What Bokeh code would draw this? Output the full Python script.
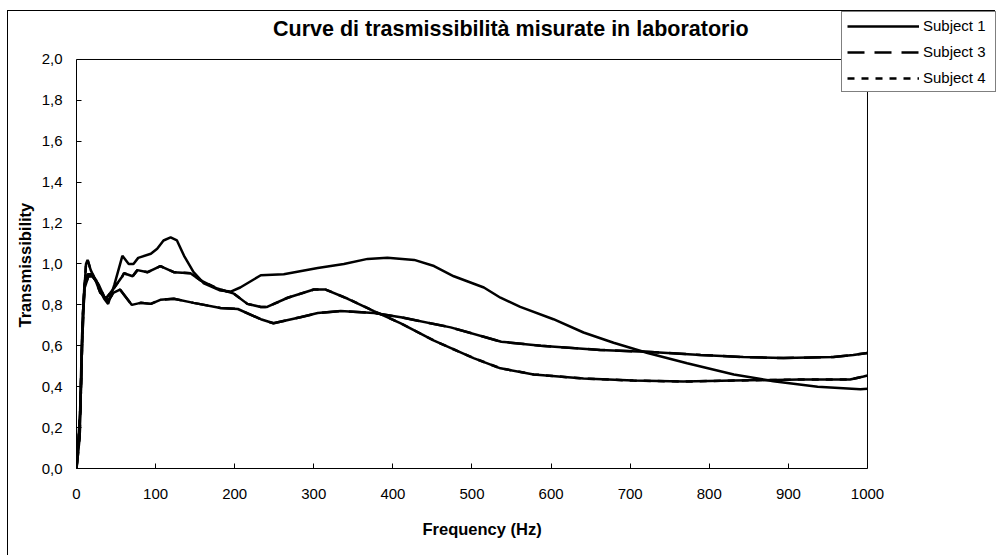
from bokeh.plotting import figure
from bokeh.models import (Range1d, Legend, LegendItem, Label, CustomJSTickFormatter, FixedTicker,
                          Spacer, Title)
from bokeh.layouts import column, row
from bokeh.embed import file_html
from bokeh.resources import INLINE

# ---- data ----
s1_freq = [0, 4, 7, 10, 14, 19, 25, 30, 35, 40, 48, 58, 66, 72, 78, 94, 102, 110, 119, 127, 136, 148, 161,
           182, 195, 207, 233, 262, 305, 338, 368, 393, 427, 452, 477, 515, 536, 561, 603, 641, 679, 722,
           772, 831, 881, 937, 991, 1000]
s1_val = [0, 0.2, 0.65, 0.9, 0.95, 0.95, 0.92, 0.87, 0.83, 0.805, 0.9, 1.04, 1.0, 1.0, 1.03, 1.05, 1.075,
          1.115, 1.13, 1.115, 1.04, 0.96, 0.905, 0.87, 0.865, 0.885, 0.945, 0.95, 0.98, 1.0, 1.025, 1.03,
          1.02, 0.99, 0.94, 0.885, 0.835, 0.79, 0.73, 0.665, 0.615, 0.565, 0.515, 0.46, 0.427, 0.40, 0.388, 0.39]

s3_freq = [0, 4, 7, 10, 15, 20, 28, 35, 40, 47, 55, 62, 70, 81, 94, 106, 123, 148, 182, 204, 233, 249, 283,
           305, 334, 376, 410, 473, 537, 587, 662, 726, 789, 843, 894, 957, 982, 1000]
s3_val = [0, 0.15, 0.6, 0.88, 0.94, 0.94, 0.9, 0.84, 0.82, 0.86, 0.875, 0.84, 0.80, 0.81, 0.805, 0.825,
          0.83, 0.81, 0.785, 0.78, 0.73, 0.71, 0.74, 0.76, 0.77, 0.76, 0.74, 0.69, 0.62, 0.60, 0.58, 0.57,
          0.555, 0.545, 0.54, 0.545, 0.555, 0.565]

s4_freq = [0, 5, 8, 12, 14, 18, 24, 30, 37, 47, 58, 60, 71, 77, 90, 106, 123, 144, 157, 178, 199, 216, 233,
           241, 267, 300, 315, 343, 376, 410, 452, 502, 536, 578, 641, 704, 767, 831, 915, 978, 995, 1000]
s4_val = [0, 0.3, 0.75, 1.0, 1.02, 0.97, 0.92, 0.86, 0.83, 0.88, 0.94, 0.955, 0.94, 0.97, 0.96, 0.99, 0.96,
          0.955, 0.92, 0.88, 0.855, 0.805, 0.79, 0.79, 0.835, 0.875, 0.875, 0.83, 0.77, 0.71, 0.625, 0.54,
          0.49, 0.46, 0.44, 0.43, 0.425, 0.43, 0.435, 0.435, 0.45, 0.455]

series_labels = ["Subject 1", "Subject 3", "Subject 4"]
x_ticks = [0, 100, 200, 300, 400, 500, 600, 700, 800, 900, 1000]
y_ticks = [0.0, 0.2, 0.4, 0.6, 0.8, 1.0, 1.2, 1.4, 1.6, 1.8, 2.0]
title_text = "Curve di trasmissibilità misurate in laboratorio"
x_title = "Frequency (Hz)"
y_title = "Transmissibility"

FONT = "Liberation Sans"
LW = 2.5

# The frame extends over the legend/title area; the visible plot box is 0..1000 x 0..2
X_MAX_VIEW = 1163.1
Y_MAX_VIEW = 2.2347

p = figure(width=988, height=545, output_backend="svg", toolbar_location=None,
           x_range=Range1d(0, X_MAX_VIEW), y_range=Range1d(0, Y_MAX_VIEW),
           min_border_left=68, min_border_right=0, min_border_top=0, min_border_bottom=88)
p.styles = {"box-shadow": "-1px -1px 0 0 black"}
p.background_fill_color = "white"
p.border_fill_color = "white"
p.outline_line_color = None
p.xgrid.visible = False
p.ygrid.visible = False

for ax in (p.xaxis[0], p.yaxis[0]):
    ax.axis_line_color = "black"
    ax.major_tick_in = 5
    ax.major_tick_out = 0
    ax.minor_tick_line_color = None
    ax.major_tick_line_color = "black"
    ax.major_label_text_font = FONT
    ax.major_label_text_font_size = "15px"
    ax.major_label_text_color = "black"

p.xaxis.bounds = (x_ticks[0], x_ticks[-1])
p.yaxis.bounds = (y_ticks[0], y_ticks[-1])
p.xaxis.ticker = FixedTicker(ticks=x_ticks)
p.yaxis.ticker = FixedTicker(ticks=y_ticks)
p.yaxis.formatter = CustomJSTickFormatter(code="return tick.toFixed(1).replace('.', ',');")
p.xaxis.major_label_standoff = 20
p.yaxis.major_label_standoff = 14

# axis titles, positioned along the visible plot box
p.add_layout(Title(text=x_title, align="left", offset=346, standoff=32, text_font=FONT,
                   text_font_size="16.5px", text_font_style="bold", text_color="black"), "below")
p.add_layout(Title(text=y_title, align="left", offset=141, standoff=10, text_font=FONT,
                   text_font_size="16.5px", text_font_style="bold", text_color="black"), "left")

# plot-area box (top and right edges; left/bottom are the axes)
p.line([x_ticks[0], x_ticks[-1], x_ticks[-1]], [y_ticks[-1], y_ticks[-1], y_ticks[0]],
       line_color="black", line_width=1)

# dashed versions underneath (their style is what the legend shows)
d3 = p.line(s3_freq, s3_val, line_color="black", line_width=LW, line_dash="17 10")
d4 = p.line(s4_freq, s4_val, line_color="black", line_width=LW, line_dash="7 7")

# curves as they appear (densely sampled -> look continuous)
r1 = p.line(s1_freq, s1_val, line_color="black", line_width=LW)
p.line(s3_freq, s3_val, line_color="black", line_width=LW)
p.line(s4_freq, s4_val, line_color="black", line_width=LW)

legend = Legend(items=[LegendItem(label=series_labels[0], renderers=[r1]),
                       LegendItem(label=series_labels[1], renderers=[d3]),
                       LegendItem(label=series_labels[2], renderers=[d4])],
                location="top_right", margin=0, padding=5, spacing=9,
                glyph_width=72, glyph_height=16, label_height=16, label_width=67,
                label_standoff=4, label_text_font=FONT, label_text_font_size="15px",
                label_text_color="black", border_line_color="black", border_line_width=1,
                background_fill_color="white", background_fill_alpha=1.0)
p.add_layout(legend, "center")

p.add_layout(Label(x=549, y=2.150, text=title_text, text_align="center", text_baseline="middle",
                   text_font=FONT, text_font_size="21.5px", text_font_style="bold", text_color="black"))

layout = column(Spacer(height=11, width=996), row(Spacer(width=8, height=545), p))

open("out.html", "w").write(file_html(layout, INLINE))
